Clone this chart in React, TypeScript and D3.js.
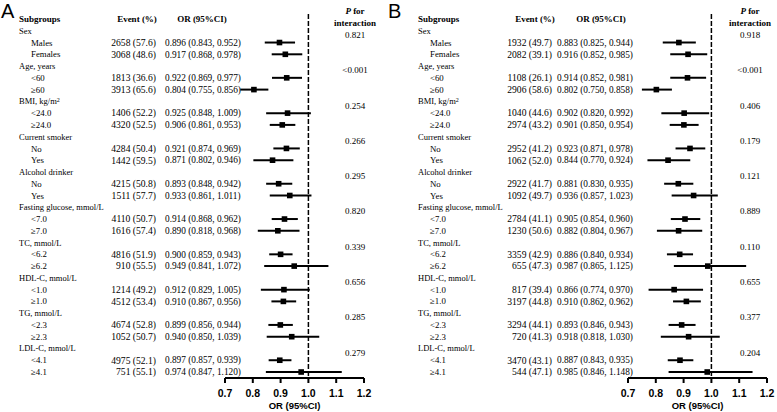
import React from "react";
import * as d3 from "d3";

// ---------- data ----------
const groupLabels = [
  "Sex",
  "Age, years",
  "BMI, kg/m",
  "Current smoker",
  "Alcohol drinker",
  "Fasting glucose, mmol/L",
  "TC, mmol/L",
  "HDL-C, mmol/L",
  "TG, mmol/L",
  "LDL-C, mmol/L",
];
const subLabels = [
  ["Males", "Females"],
  ["<60", "≥60"],
  ["<24.0", "≥24.0"],
  ["No", "Yes"],
  ["No", "Yes"],
  ["<7.0", "≥7.0"],
  ["<6.2", "≥6.2"],
  ["<1.0", "≥1.0"],
  ["<2.3", "≥2.3"],
  ["<4.1", "≥4.1"],
];

// Panel A
const eventA = [2658, 3068, 1813, 3913, 1406, 4320, 4284, 1442, 4215, 1511, 4110, 1616, 4816, 910, 1214, 4512, 4674, 1052, 4975, 751];
const pctA = ["57.6", "48.6", "36.6", "65.6", "52.2", "52.5", "50.4", "59.5", "50.8", "57.7", "50.7", "57.4", "51.9", "55.5", "49.2", "53.4", "52.8", "50.7", "52.1", "55.1"];
const orA = [0.896, 0.917, 0.922, 0.804, 0.925, 0.906, 0.921, 0.871, 0.893, 0.933, 0.914, 0.890, 0.900, 0.949, 0.912, 0.910, 0.899, 0.940, 0.897, 0.974];
const lowA = [0.843, 0.868, 0.869, 0.755, 0.848, 0.861, 0.874, 0.802, 0.848, 0.861, 0.868, 0.818, 0.859, 0.841, 0.829, 0.867, 0.856, 0.850, 0.857, 0.847];
const highA = [0.952, 0.978, 0.977, 0.856, 1.009, 0.953, 0.969, 0.946, 0.942, 1.011, 0.962, 0.968, 0.943, 1.072, 1.005, 0.956, 0.944, 1.039, 0.939, 1.120];
const pA = ["0.821", "<0.001", "0.254", "0.266", "0.295", "0.820", "0.339", "0.656", "0.285", "0.279"];

// Panel B
const eventB = [1932, 2082, 1108, 2906, 1040, 2974, 2952, 1062, 2922, 1092, 2784, 1230, 3359, 655, 817, 3197, 3294, 720, 3470, 544];
const pctB = ["49.7", "39.1", "26.1", "58.6", "44.6", "43.2", "41.2", "52.0", "41.7", "49.7", "41.1", "50.6", "42.9", "47.3", "39.4", "44.8", "44.1", "41.3", "43.1", "47.1"];
const orB = [0.883, 0.916, 0.914, 0.802, 0.902, 0.901, 0.923, 0.844, 0.881, 0.936, 0.905, 0.882, 0.886, 0.987, 0.866, 0.910, 0.893, 0.918, 0.887, 0.985];
const lowB = [0.825, 0.852, 0.852, 0.750, 0.820, 0.850, 0.871, 0.770, 0.830, 0.857, 0.854, 0.804, 0.840, 0.865, 0.774, 0.862, 0.846, 0.818, 0.843, 0.846];
const highB = [0.944, 0.985, 0.981, 0.858, 0.992, 0.954, 0.978, 0.924, 0.935, 1.023, 0.960, 0.967, 0.934, 1.125, 0.970, 0.962, 0.943, 1.030, 0.935, 1.148];
const pB = ["0.918", "<0.001", "0.406", "0.179", "0.121", "0.889", "0.110", "0.655", "0.377", "0.204"];

const xTicks = [0.7, 0.8, 0.9, 1.0, 1.1, 1.2];

// ---------- layout ----------
const W = 777;
const H = 412;
const SERIF = "'Liberation Serif', 'Times New Roman', serif";
const SANS = "'Liberation Sans', Arial, sans-serif";

const rowIdx = d3.range(0, 31);
const yRow = d3.scalePoint<number>().domain(rowIdx).range([19, 372]);

type PanelCfg = {
  letter: string;
  ox: number;
  catX: number;
  subX: number;
  eventRight: number;
  orX: number;
  eventHeadX: number;
  orHeadX: number;
  pX: number;
  axisRange: [number, number];
  events: number[];
  pcts: string[];
  ors: number[];
  lows: number[];
  highs: number[];
  ps: string[];
};

const fmt3 = d3.format(".3f");

function Panel({ cfg }: { cfg: PanelCfg }) {
  const x = d3.scaleLinear().domain([0.7, 1.2]).range(cfg.axisRange);
  const axisY = 378;
  const items: React.ReactNode[] = [];

  groupLabels.forEach((g, gi) => {
    const catRow = 1 + gi * 3;
    const cy = yRow(catRow)!;
    items.push(
      <text key={`g${gi}`} x={cfg.catX} y={cy} dy="0.35em" fontSize={8.5} fontFamily={SERIF}>
        {g}
        {gi === 2 ? (
          <tspan fontSize={6} dy="-0.45em">2</tspan>
        ) : null}
      </text>
    );
    items.push(
      <text key={`p${gi}`} x={cfg.pX} y={cy + 4} dy="0.35em" fontSize={9} fontFamily={SERIF} textAnchor="middle">
        {cfg.ps[gi]}
      </text>
    );
    [0, 1].forEach((si) => {
      const k = gi * 2 + si;
      const ry = yRow(catRow + 1 + si)!;
      items.push(
        <text key={`s${k}`} x={cfg.subX} y={ry} dy="0.35em" fontSize={8.8} fontFamily={SERIF}>
          {subLabels[gi][si]}
        </text>
      );
      items.push(
        <text key={`e${k}`} x={cfg.eventRight} y={ry} dy="0.35em" fontSize={9.6} fontFamily={SERIF} textAnchor="end">
          {`${cfg.events[k]} (${cfg.pcts[k]})`}
        </text>
      );
      items.push(
        <text key={`o${k}`} x={cfg.orX} y={ry} dy="0.35em" fontSize={9.3} fontFamily={SERIF}>
          {`${fmt3(cfg.ors[k])} (${fmt3(cfg.lows[k])}, ${fmt3(cfg.highs[k])})`}
        </text>
      );
      items.push(
        <line key={`l${k}`} x1={x(cfg.lows[k])} x2={x(cfg.highs[k])} y1={ry} y2={ry} stroke="#000" strokeWidth={2} />
      );
      items.push(
        <rect key={`r${k}`} x={x(cfg.ors[k]) - 2.8} y={ry - 2.8} width={5.6} height={5.6} fill="#000" />
      );
    });
  });

  return (
    <g>
      <text x={cfg.ox} y={18} fontSize={20} fontFamily={SANS}>
        {cfg.letter}
      </text>
      <text x={cfg.catX} y={yRow(0)!} dy="0.35em" fontSize={9} fontWeight="bold" fontFamily={SERIF}>
        Subgroups
      </text>
      <text x={cfg.eventHeadX} y={yRow(0)!} dy="0.35em" fontSize={9} fontWeight="bold" fontFamily={SERIF} textAnchor="middle">
        Event (%)
      </text>
      <text x={cfg.orHeadX} y={yRow(0)!} dy="0.35em" fontSize={9} fontWeight="bold" fontFamily={SERIF} textAnchor="middle">
        OR (95%CI)
      </text>
      <text x={cfg.pX} y={11} dy="0.35em" fontSize={9} fontWeight="bold" fontFamily={SERIF} textAnchor="middle">
        <tspan fontStyle="italic">P</tspan> for
      </text>
      <text x={cfg.pX} y={23} dy="0.35em" fontSize={9} fontWeight="bold" fontFamily={SERIF} textAnchor="middle">
        interaction
      </text>
      <line x1={x(1)} x2={x(1)} y1={14} y2={axisY} stroke="#000" strokeWidth={1.5} strokeDasharray="5,2" />
      {items}
      <line x1={x(0.7)} x2={x(1.2)} y1={axisY} y2={axisY} stroke="#000" strokeWidth={2} />
      {xTicks.map((t) => (
        <g key={t}>
          <line x1={x(t)} x2={x(t)} y1={axisY} y2={axisY + 5} stroke="#000" strokeWidth={2} />
          <text x={x(t)} y={393} dy="0.35em" textAnchor="middle" fontSize={10.5} fontWeight="bold" fontFamily={SANS}>
            {d3.format(".1f")(t)}
          </text>
        </g>
      ))}
      <text x={(cfg.axisRange[0] + cfg.axisRange[1]) / 2} y={406} dy="0.35em" textAnchor="middle" fontSize={9.5} fontWeight="bold" fontFamily={SANS}>
        OR (95%CI)
      </text>
    </g>
  );
}

export default function App() {
  const cfgA: PanelCfg = {
    letter: "A",
    ox: 1,
    catX: 19,
    subX: 31,
    eventRight: 156,
    orX: 165,
    eventHeadX: 137,
    orHeadX: 202,
    pX: 355,
    axisRange: [225, 364],
    events: eventA,
    pcts: pctA,
    ors: orA,
    lows: lowA,
    highs: highA,
    ps: pA,
  };
  const cfgB: PanelCfg = {
    letter: "B",
    ox: 388,
    catX: 418,
    subX: 430,
    eventRight: 552,
    orX: 557,
    eventHeadX: 535,
    orHeadX: 601,
    pX: 750,
    axisRange: [628, 767],
    events: eventB,
    pcts: pctB,
    ors: orB,
    lows: lowB,
    highs: highB,
    ps: pB,
  };
  return (
    <svg
      width={W}
      height={H}
      viewBox={`0 0 ${W} ${H}`}
      style={{ position: "absolute", left: 0, top: 0, background: "#fff" }}
    >
      <rect width={W} height={H} fill="#fff" />
      <Panel cfg={cfgA} />
      <Panel cfg={cfgB} />
    </svg>
  );
}
